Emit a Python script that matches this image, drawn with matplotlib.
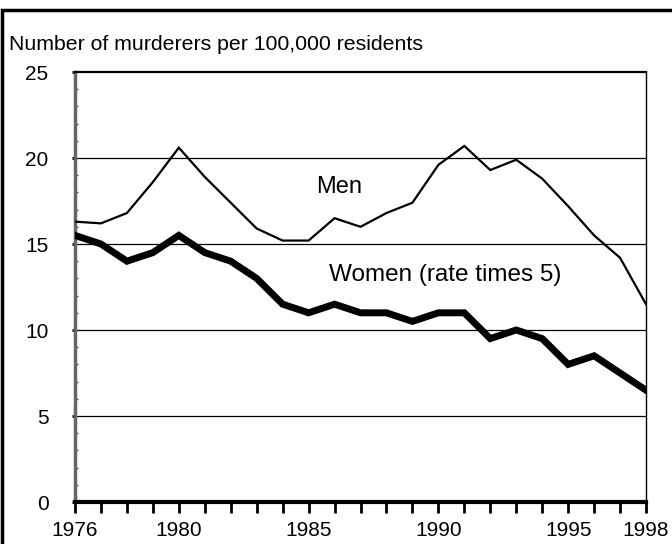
import matplotlib
matplotlib.use("Agg")
import matplotlib.pyplot as plt
from matplotlib.patches import Rectangle
from matplotlib.ticker import MultipleLocator

plt.rcParams['font.family'] = ['Liberation Sans', 'DejaVu Sans']

years = list(range(1976, 1999))
men = [16.3, 16.2, 16.8, 18.6, 20.6, 18.9, 17.4, 15.9, 15.2, 15.2, 16.5, 16.0,
       16.8, 17.4, 19.6, 20.7, 19.3, 19.9, 18.8, 17.2, 15.5, 14.2, 11.5]
women = [15.5, 15.0, 14.0, 14.5, 15.5, 14.5, 14.0, 13.0, 11.5, 11.0, 11.5, 11.0,
         11.0, 10.5, 11.0, 11.0, 9.5, 10.0, 9.5, 8.0, 8.5, 7.5, 6.5]
xtick_years = [1976, 1980, 1985, 1990, 1995, 1998]
yticks = [0, 5, 10, 15, 20, 25]

fig = plt.figure(figsize=(6.72, 5.44), dpi=100)
ax = fig.add_axes([75/672, 1-502/544, 571/672, 430/544])

for v in [5, 10, 15, 20]:
    ax.axhline(v, color='black', lw=0.9, zorder=1)

ax.plot(years, men, color='black', lw=1.6, zorder=3, solid_joinstyle='miter')
ax.plot(years, women, color='black', lw=5.0, zorder=3, solid_joinstyle='miter')

ax.set_xlim(1976, 1998)
ax.set_ylim(0, 25)
ax.set_xticks(xtick_years)
ax.set_xticks(years, minor=True)
ax.set_yticks(yticks)
ax.yaxis.set_minor_locator(MultipleLocator(1))

ax.tick_params(axis='x', which='both', direction='out', length=8, width=2,
               labelsize=15, pad=6, color='black')
ax.tick_params(axis='y', which='major', direction='out', length=2, width=2,
               labelsize=15, pad=17)
ax.tick_params(axis='y', which='minor', direction='in', length=2.5, width=1.0,
               color='#555555')

ax.spines['left'].set_color('#666666')
ax.spines['left'].set_linewidth(2.5)
ax.spines['bottom'].set_linewidth(3)
ax.spines['top'].set_linewidth(1.6)
ax.spines['right'].set_linewidth(1.0)

ax.text(1985.3, 18.3, 'Men', fontsize=17, va='center', ha='left')
ax.text(1985.8, 13.2, 'Women (rate times 5)', fontsize=17.5, va='center', ha='left')

fig.text(9/672, 1-45/544, 'Number of murderers per 100,000 residents',
         fontsize=15.3, va='center', ha='left')

fig.patches.append(Rectangle((2/672, -0.2), 1.2, 1.2 - 10/544, transform=fig.transFigure,
                             fill=False, edgecolor='black', lw=2.5, zorder=10))

fig.savefig('out.png', dpi=100)
